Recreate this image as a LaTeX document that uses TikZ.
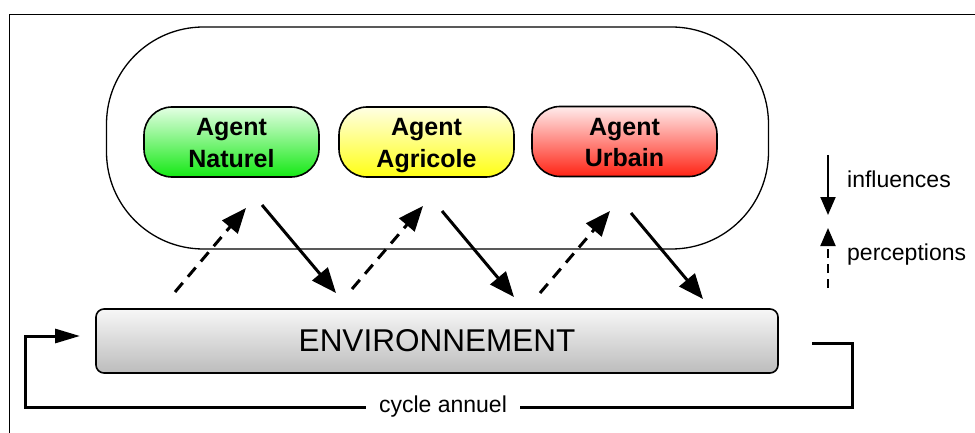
\documentclass[tikz,border=0pt]{standalone}
\usepackage{fontspec}
\setmainfont{Liberation Sans}
\usetikzlibrary{arrows.meta,positioning,calc}
\definecolor{natgreen}{RGB}{20,232,20}
\definecolor{natlight}{RGB}{228,255,228}
\definecolor{agryellow}{RGB}{255,255,20}
\definecolor{agrlight}{RGB}{255,255,228}
\definecolor{urbred}{RGB}{255,35,20}
\definecolor{urblight}{RGB}{255,236,236}
\definecolor{envlight}{RGB}{247,247,247}
\definecolor{envgrey}{RGB}{188,188,188}
\newcommand\agstrut{\rule[-6pt]{0pt}{30.9pt}}

\begin{document}
\begin{tikzpicture}[x=1pt, y=-1pt,
  agent/.style={draw, line width=1.6pt, rounded corners=28pt,
                minimum width=175pt, minimum height=70pt, inner sep=0pt,
                align=center, font=\fontsize{25}{31.5}\selectfont\bfseries},
  envbox/.style={draw, line width=1.6pt, rounded corners=8pt,
                 top color=envlight, bottom color=envgrey,
                 minimum width=682pt, minimum height=64pt,
                 font=\fontsize{31.5}{36}\selectfont},
  lbl/.style={font=\fontsize{23}{27}\selectfont},
  infl/.style={line width=3pt, -{Triangle[length=25pt,width=20pt]}},
  perc/.style={line width=3pt, dash pattern=on 12pt off 8pt,
               -{Triangle[length=25pt,width=20pt]}},
  cycl/.style={line width=3pt}
]
\useasboundingbox (0,0) rectangle (975,433);

% --- frame ---
\draw[line width=0.8pt] (9,433) -- (9,14) -- (975,14);

% --- agents (top) ---
\node[draw, line width=1.3pt, rounded corners=97pt, minimum width=662pt,
      minimum height=222pt] (agents) at (437.5,138) {};

\node[agent, top color=natlight, bottom color=natgreen] (nat) at (231.5,142)
  {\agstrut Agent\\\agstrut Naturel};
\node[agent, top color=agrlight, bottom color=agryellow] (agr) at (426.5,142)
  {\agstrut Agent\\\agstrut Agricole};
\node[agent, top color=urblight, bottom color=urbred, minimum width=185pt]
  (urb) at (624.5,141.5) {\agstrut Agent\\\agstrut Urbain};

% --- environment ---
\node[envbox] (env) at (437,341) {ENVIRONNEMENT};

% --- perceptions / influences ---
\coordinate (p1s) at (175,292);  \coordinate (p1e) at (246,208);
\coordinate (i1s) at (262,205);  \coordinate (i1e) at (336,293);
\coordinate (p2s) at (352,289);  \coordinate (p2e) at (423,206);
\coordinate (i2s) at (442,211);  \coordinate (i2e) at (514,297);
\coordinate (p3s) at (540,293);  \coordinate (p3e) at (610,211);
\coordinate (i3s) at (631,213);  \coordinate (i3e) at (703,299);

\draw[perc] (p1s) -- (p1e);
\draw[infl] (i1s) -- (i1e);
\draw[perc] (p2s) -- (p2e);
\draw[infl] (i2s) -- (i2e);
\draw[perc] (p3s) -- (p3e);
\draw[infl] (i3s) -- (i3e);

% --- legend ---
\coordinate (li1) at (828,155);  \coordinate (li2) at (828,215);
\coordinate (lp1) at (828,288);  \coordinate (lp2) at (828,228);
\draw[line width=2pt, -{Triangle[length=18pt,width=15pt]}] (li1) -- (li2);
\draw[line width=2pt, dash pattern=on 9pt off 6pt,
      -{Triangle[length=18pt,width=15pt]}] (lp1) -- (lp2);
\node[lbl, anchor=base west, inner sep=0pt] (infl) at (847,188) {influences};
\node[lbl, anchor=base west, inner sep=0pt] (perc) at (847,260) {perceptions};

% --- cycle annuel ---
\node[lbl, inner xsep=13pt, inner ysep=0pt] (cyc) at (443,407) {cycle annuel};
\coordinate (cycout) at (812,343);
\coordinate (cycin) at (80,336);
\draw[cycl] (cycout) -- (852,343) |- (cyc.east);
\draw[cycl, -{Triangle[length=25pt,width=14pt]}] (cyc.west) -| (25,336) -- (cycin);

\end{tikzpicture}
\end{document}
